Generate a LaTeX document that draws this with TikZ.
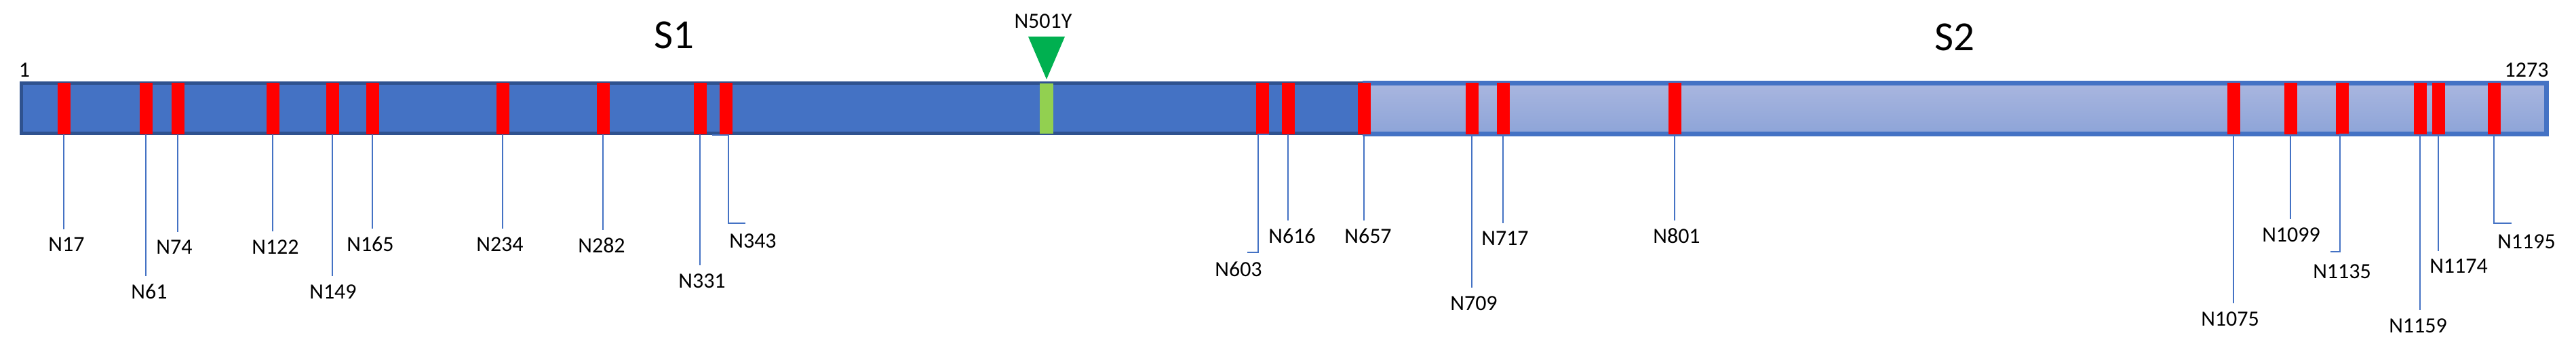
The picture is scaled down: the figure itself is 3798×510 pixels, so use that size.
\documentclass[tikz,border=0pt]{standalone}
\usepackage{fontspec}
\setmainfont{Carlito}
\definecolor{s1fill}{HTML}{4472C4}
\definecolor{s1line}{HTML}{2F528F}
\definecolor{s2top}{HTML}{A9B6DF}
\definecolor{s2bot}{HTML}{8DA4D8}
\definecolor{glyc}{HTML}{FF0000}
\definecolor{darkgreen}{HTML}{00B050}
\definecolor{lightgreen}{HTML}{92D050}
\definecolor{conncol}{HTML}{4472C4}
\tikzset{
 s1bar/.style={draw=s1line, line width=5pt, fill=s1fill, minimum width=1975pt, minimum height=74pt, inner sep=0pt},
 s2bar/.style={draw=s1fill, line width=7pt, top color=s2top, bottom color=s2bot, minimum width=1742pt, minimum height=75pt, inner sep=0pt},
 site/.style={fill=glyc, minimum width=19pt, minimum height=76pt, inner sep=0pt},
 mutsite/.style={fill=lightgreen, minimum width=20pt, minimum height=74pt, inner sep=0pt},
 conn/.style={draw=conncol, line width=2pt},
 lab/.style={font=\fontsize{32}{38}\selectfont, inner xsep=2pt, inner ysep=12pt},
 big/.style={font=\fontsize{61}{70}\selectfont, inner sep=0pt},
}
\begin{document}
\begin{tikzpicture}[x=1pt,y=-1pt]
\useasboundingbox (0,0) rectangle (3798,510);
% bars
\node[s1bar] (s1) at (1019,159.5) {};
\node[s2bar] (s2) at (2883.5,160) {};
% titles
\node[big] (t1) at (994,52) {S1};
\node[big] (t2) at (2882,55) {S2};
\node[lab, inner sep=0pt] (start) at (36,103) {1};
\node[lab, inner sep=0pt] (end) at (3725,103) {1273};
% mutation
\node[mutsite] (m501) at (1543,160) {};
\fill[darkgreen] (1516,54) -- (1570,54) -- (1543,117) -- cycle;
\node[lab, inner sep=0pt] (l501) at (1538,31) {N501Y};
% straight sites
\foreach \n/\x/\lx/\ly in {17/94/98/360, 61/215/220/430, 74/262/257/364, 122/402/406/364,
  149/490/491/430, 165/549/546/360, 234/741/737/360, 282/889/887/362, 331/1032/1035/414,
  616/1899/1905/348, 657/2011/2017/348, 709/2170/2173/447, 717/2216/2219/351,
  801/2469/2472/348, 1075/3293/3288/470, 1099/3377/3378/346, 1159/3568/3565/480,
  1174/3595/3625/392}{
  \node[site] (m\n) at (\x,160) {};
  \node[lab] (l\n) at (\lx,\ly) {N\n};
  \draw[conn] (m\n.south) -- (m\n.south |- l\n.north);
}
% elbow sites
\node[site] (m343) at (1070,160) {};
\node[lab] (l343) at (1110,355) {N343};
\coordinate (c343) at (1099,329);
\draw[conn] (1050,199) -| (1074,329) -- (c343);
\node[site] (m603) at (1861,160) {};
\node[lab] (l603) at (1826,397) {N603};
\coordinate (c603) at (1839,372);
\draw[conn] (m603.south east) -| (1855,372) -- (c603);
\node[site] (m1135) at (3453,160) {};
\node[lab] (l1135) at (3453,400) {N1135};
\coordinate (c1135) at (3436,371);
\draw[conn] (m1135.south east) -| (3450,371) -- (c1135);
\node[site] (m1195) at (3677,160) {};
\node[lab] (l1195) at (3725,356) {N1195};
\coordinate (c1195) at (3703,329);
\draw[conn] (m1195.south) |- (c1195);
\end{tikzpicture}
\end{document}
